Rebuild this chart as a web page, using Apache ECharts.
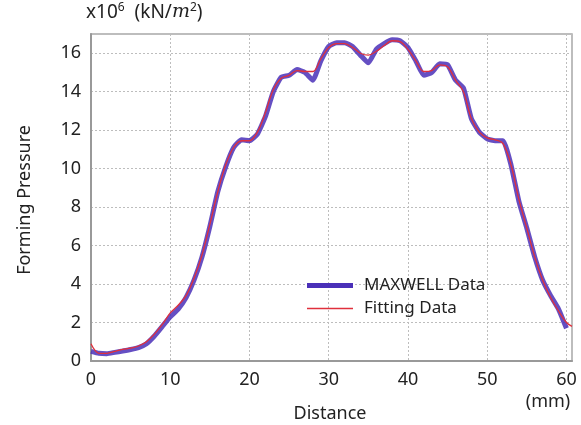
<!DOCTYPE html>
<html><head><meta charset="utf-8">
<script src="https://cdn.jsdelivr.net/npm/echarts@6/dist/echarts.min.js"></script>
<style>html,body{margin:0;padding:0;background:#fff}#c{width:581px;height:425px}</style>
</head><body><div id="c"></div>
<script>
const maxwellX = [0,1,2,3,4,5,6,7,8,9,10,11,12,13,14,15,16,17,18,19,20,21,22,23,24,25,26,27,28,29,30,31,32,33,34,35,36,37,38,39,40,41,42,43,44,45,46,47,48,49,50,51,52,53,54,55,56,57,58,59,60];
const maxwellY = [0.5,0.4,0.38,0.45,0.52,0.6,0.7,0.9,1.3,1.8,2.3,2.7,3.3,4.2,5.4,7.0,8.8,10.1,11.1,11.5,11.45,11.8,12.7,14.0,14.75,14.85,15.15,15.0,14.6,15.6,16.35,16.55,16.55,16.35,15.9,15.5,16.2,16.5,16.7,16.65,16.3,15.6,14.85,15.0,15.45,15.4,14.6,14.2,12.6,11.9,11.55,11.45,11.45,10.2,8.3,6.9,5.4,4.2,3.4,2.7,1.7];
const fitX = [0,0.5,1,2,3,4,5,6,7,8,9,10,11,12,13,14,15,16,17,18,19,20,21,22,23,24,25,26,27,28,29,30,31,32,33,34,35,36,37,38,39,40,41,42,43,44,45,46,47,48,49,50,51,52,53,54,55,56,57,58,59,60,60.7];
const fitY = [0.9,0.55,0.4,0.4,0.5,0.6,0.67,0.78,1.0,1.4,1.9,2.5,2.9,3.4,4.3,5.5,7.1,8.8,10.2,11.1,11.45,11.45,11.9,12.9,14.1,14.7,14.85,15.1,15.05,15.05,15.7,16.3,16.5,16.5,16.3,16.0,15.9,16.1,16.4,16.65,16.6,16.2,15.6,15.05,15.1,15.4,15.3,14.6,14.0,12.6,11.9,11.6,11.5,11.3,10.2,8.4,6.9,5.4,4.2,3.3,2.6,2.0,1.8];
const xTicks = [0,10,20,30,40,50,60];
const yTicks = [0,2,4,6,8,10,12,14,16];
const seriesNames = ['MAXWELL Data','Fitting Data'];

const font = '"Noto Sans", "Open Sans", sans-serif';
const chart = echarts.init(document.getElementById('c'), null, {renderer:'canvas'});
chart.setOption({
  animation:false,
  backgroundColor:'#fff',
  grid:{left:91,right:9,top:34,bottom:64,show:true,borderColor:'#a8a8a8',borderWidth:1.5},
  xAxis:{type:'value',min:0,max:60.7,interval:10,
    axisLine:{show:true,onZero:false,lineStyle:{color:'#999',width:2}},
    axisTick:{show:false},
    axisLabel:{fontFamily:font,fontSize:18,color:'#222',margin:10,showMaxLabel:false,
      formatter:v=>xTicks.includes(v)?String(v):''},
    splitLine:{show:true,lineStyle:{color:'#bdbdbd',type:[2,2],width:1}}},
  yAxis:{type:'value',min:0,max:17,interval:2,
    axisLine:{show:true,lineStyle:{color:'#999',width:2}},
    axisTick:{show:false},
    axisLabel:{fontFamily:font,fontSize:18,color:'#222',margin:10,showMaxLabel:false,
      formatter:v=>yTicks.includes(v)?String(v):''},
    splitLine:{show:true,lineStyle:{color:'#bdbdbd',type:[2,2],width:1}}},
  legend:{orient:'vertical',left:302,top:272,itemWidth:46,itemHeight:12,itemGap:6,
    textStyle:{fontFamily:font,fontSize:17,color:'#222',padding:[0,0,0,6]},
    data:[{name:seriesNames[0],icon:'path://M0,0L46,0L46,5L0,5Z',itemStyle:{color:'#4a30b8'}},
          {name:seriesNames[1],icon:'path://M0,0L46,0L46,1.6L0,1.6Z',itemStyle:{color:'#e0303c'}}]},
  series:[
    {name:seriesNames[0],type:'line',showSymbol:false,smooth:0.15,
      data:maxwellX.map((x,i)=>[x,maxwellY[i]]),
      lineStyle:{color:'#4a30b8',width:5,opacity:0.85},itemStyle:{color:'#4a30b8'},z:2},
    {name:seriesNames[1],type:'line',showSymbol:false,smooth:0.35,
      data:fitX.map((x,i)=>[x,fitY[i]]),
      lineStyle:{color:'#e0303c',width:1.3},itemStyle:{color:'#e0303c'},z:3}
  ],
  graphic:[
    {type:'text',left:86,top:2,style:{rich:{a:{fontFamily:font,fontSize:19,fill:'#222'},
        s:{fontFamily:font,fontSize:12,fill:'#222',verticalAlign:'top',padding:[0,0,9,0]},
        m:{fontFamily:'"DejaVu Serif", serif',fontStyle:'italic',fontSize:19,fill:'#222'}},
      text:'{a|x10}{s|6}{a|  (kN/}{m|m}{s|2}{a|)}'}},
    {type:'text',x:25,y:200,rotation:Math.PI/2,style:{text:'Forming Pressure',fontFamily:font,fontSize:18,fill:'#222',align:'center',verticalAlign:'middle'}},
    {type:'text',x:330,y:414,style:{text:'Distance',fontFamily:font,fontSize:18,fill:'#222',align:'center',verticalAlign:'middle'}},
    {type:'text',x:548,y:402,style:{text:'(mm)',fontFamily:font,fontSize:18,fill:'#222',align:'center',verticalAlign:'middle'}}
  ]
});
</script></body></html>
